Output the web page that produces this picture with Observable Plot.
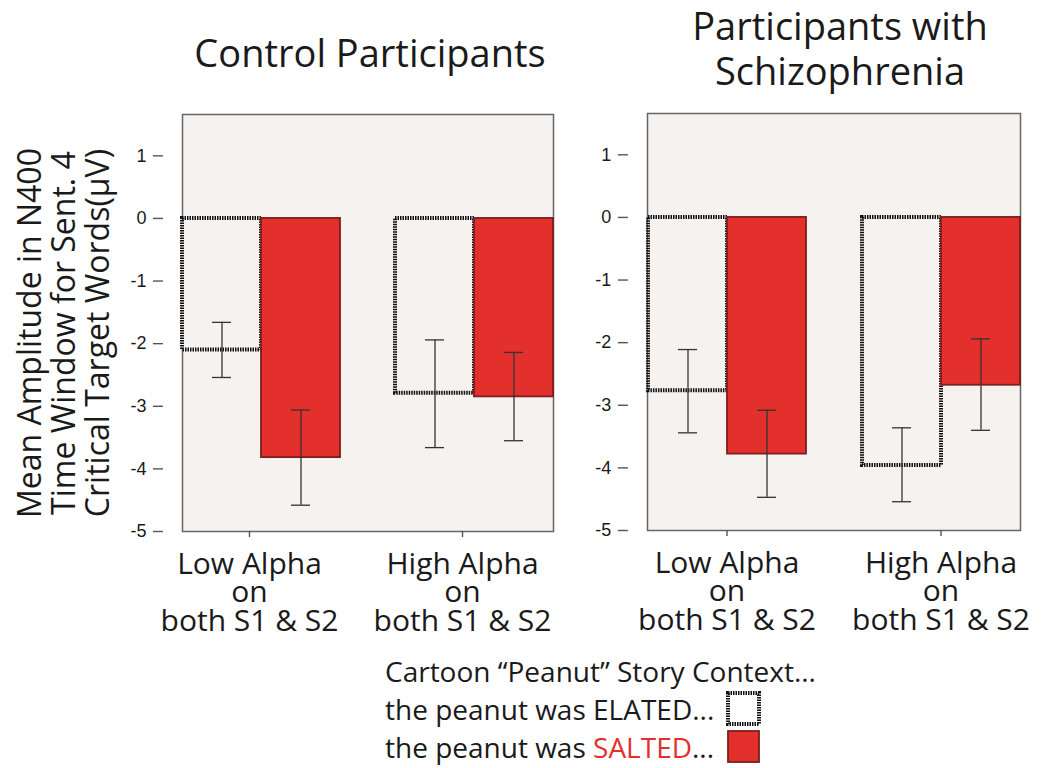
<!DOCTYPE html>
<html>
<head>
<meta charset="utf-8">
<script src="https://cdn.jsdelivr.net/npm/d3@7"></script>
<script src="https://cdn.jsdelivr.net/npm/@observablehq/plot@0.6"></script>
<style>
  html, body { margin: 0; padding: 0; background: #fff; }
  #root { position: relative; width: 1050px; height: 768px; overflow: hidden; font-family: "Open Sans", sans-serif; color: #1a1a1a; }
  .title { position: absolute; font-size: 38px; line-height: 45px; text-align: center; white-space: nowrap; }
  .ylab { position: absolute; width: 420px; height: 102px; left: -147px; top: 282px; transform: rotate(-90deg); font-size: 32px; line-height: 34px; text-align: center; white-space: nowrap; }
  .panel { position: absolute; top: 100px; }
  .legend { position: absolute; left: 385px; top: 652px; font-size: 28px; line-height: 38px; white-space: pre; }
  .legend .row { display: flex; align-items: center; height: 38px; }
  .legend svg { margin-left: 12px; }
</style>
</head>
<body>
<div id="root">
  <div class="title" style="left:170px;width:400px;top:30px;">Control Participants</div>
  <div class="title" style="left:640px;width:400px;top:3px;">Participants with<br>Schizophrenia</div>
  <div class="ylab">Mean Amplitude in N400<br>Time Window for Sent. 4<br>Critical Target Words(μV)</div>
  <div class="panel" id="left" style="left:100px;"></div>
  <div class="panel" id="right" style="left:565px;"></div>
  <div class="legend" id="legend"></div>
</div>
<script>
// ---- data ----
const groups = ["Low Alpha", "High Alpha"];
const groupLabels = ["Low Alpha\non\nboth S1 & S2", "High Alpha\non\nboth S1 & S2"];
const conditions = ["ELATED", "SALTED"];
const yTicks = [1, 0, -1, -2, -3, -4, -5];
// order: Low/ELATED, Low/SALTED, High/ELATED, High/SALTED
const controlMean = [-2.10, -3.82, -2.79, -2.85];
const controlErrTop = [-1.66, -3.06, -1.94, -2.14];
const controlErrBottom = [-2.54, -4.58, -3.66, -3.55];
const schizMean = [-2.77, -3.78, -3.96, -2.68];
const schizErrTop = [-2.11, -3.08, -3.36, -1.94];
const schizErrBottom = [-3.44, -4.47, -4.54, -3.40];
const legendTitle = "Cartoon \u201CPeanut\u201D Story Context...";

const BG = "#f5f2ef";
const RED = "#e3302c";
const RED_EDGE = "#7e1f1c";
const DOT = "#111";
const PAD_IN = 0.257, PAD_OUT = 0.089;

function buildRows(mean, top, bottom) {
  const rows = [];
  groups.forEach((g, i) => conditions.forEach((c, j) => {
    const k = i * conditions.length + j;
    rows.push({group: g, cond: c, mean: mean[k], errTop: top[k], errBottom: bottom[k]});
  }));
  return rows;
}

function panel(rows, opts) {
  const width = 480, marginLeft = 62;
  const inner = width - marginLeft - opts.marginRight;
  const step = inner / (groups.length - PAD_IN + 2 * PAD_OUT);
  const outer = PAD_OUT * step; // gap between frame edge and first facet
  const elated = rows.filter(d => d.cond === "ELATED");
  const salted = rows.filter(d => d.cond === "SALTED");
  return Plot.plot({
    width,
    height: 540,
    marginLeft,
    marginRight: opts.marginRight,
    marginTop: opts.marginTop,
    marginBottom: 540 - opts.marginTop - 417,
    style: {background: "transparent", color: "#222"},
    fx: {domain: groups, paddingInner: PAD_IN, paddingOuter: PAD_OUT, axis: null, label: null},
    x: {domain: conditions, padding: 0, axis: null},
    y: {domain: [-5, 1.66], axis: null},
    marks: [
      Plot.frame({facet: "super", fill: BG, stroke: "#666", strokeWidth: 1.5}),
      Plot.barY(elated, {fx: "group", x: "cond", y: "mean", fill: BG, stroke: DOT, strokeWidth: 4, strokeDasharray: "1.5,1"}),
      Plot.barY(salted, {fx: "group", x: "cond", y: "mean", fill: RED, stroke: RED_EDGE, strokeWidth: 1.8}),
      Plot.ruleX(rows, {fx: "group", x: "cond", y1: "errBottom", y2: "errTop", stroke: "#333", strokeWidth: 1.3}),
      Plot.tickY(rows, {fx: "group", x: "cond", y: "errTop", stroke: "#333", strokeWidth: 1.3, insetLeft: 30, insetRight: 30}),
      Plot.tickY(rows, {fx: "group", x: "cond", y: "errBottom", stroke: "#333", strokeWidth: 1.3, insetLeft: 30, insetRight: 30}),
      Plot.axisY({ticks: yTicks, tickFormat: d => String(d), tickSize: 10, tickPadding: 7, fontSize: 18, fontFamily: "Liberation Sans, Arial, sans-serif", label: null, stroke: "#555", strokeWidth: 1.4, color: "#1a1a1a", dx: -outer}),
      Plot.axisFx({anchor: "bottom", tickSize: 6, tickPadding: 16, fontSize: 30, fontFamily: "Open Sans, sans-serif", lineHeight: 0.95, label: null, stroke: "#555", strokeWidth: 1.4, color: "#1a1a1a", dx: opts.labelDx, tickFormat: d => groupLabels[groups.indexOf(d)]})
    ]
  });
}

document.getElementById("left").appendChild(panel(buildRows(controlMean, controlErrTop, controlErrBottom), {marginRight: 7, marginTop: 14, labelDx: -12}));
document.getElementById("right").appendChild(panel(buildRows(schizMean, schizErrTop, schizErrBottom), {marginRight: 5, marginTop: 13, labelDx: 0}));

// legend
const legend = document.getElementById("legend");
const t = document.createElement("div"); t.className = "row"; t.textContent = legendTitle; legend.appendChild(t);
function swatch(fill, stroke, sw, dash) {
  const ns = "http://www.w3.org/2000/svg";
  const s = document.createElementNS(ns, "svg");
  s.setAttribute("width", 36); s.setAttribute("height", 36);
  const r = document.createElementNS(ns, "rect");
  r.setAttribute("x", 2); r.setAttribute("y", 2); r.setAttribute("width", 31); r.setAttribute("height", 31);
  r.setAttribute("fill", fill); r.setAttribute("stroke", stroke); r.setAttribute("stroke-width", sw);
  if (dash) r.setAttribute("stroke-dasharray", dash);
  s.appendChild(r);
  return s;
}
conditions.forEach(c => {
  const row = document.createElement("div"); row.className = "row";
  const txt = document.createElement("span");
  txt.appendChild(document.createTextNode("the peanut was "));
  const b = document.createElement("span"); b.textContent = c; if (c === "SALTED") b.style.color = RED;
  txt.appendChild(b);
  txt.appendChild(document.createTextNode("..."));
  row.appendChild(txt);
  row.appendChild(c === "ELATED" ? swatch("#fff", DOT, 4, "1.5,1") : swatch(RED, RED_EDGE, 1.8, null));
  legend.appendChild(row);
});
</script>
</body>
</html>
